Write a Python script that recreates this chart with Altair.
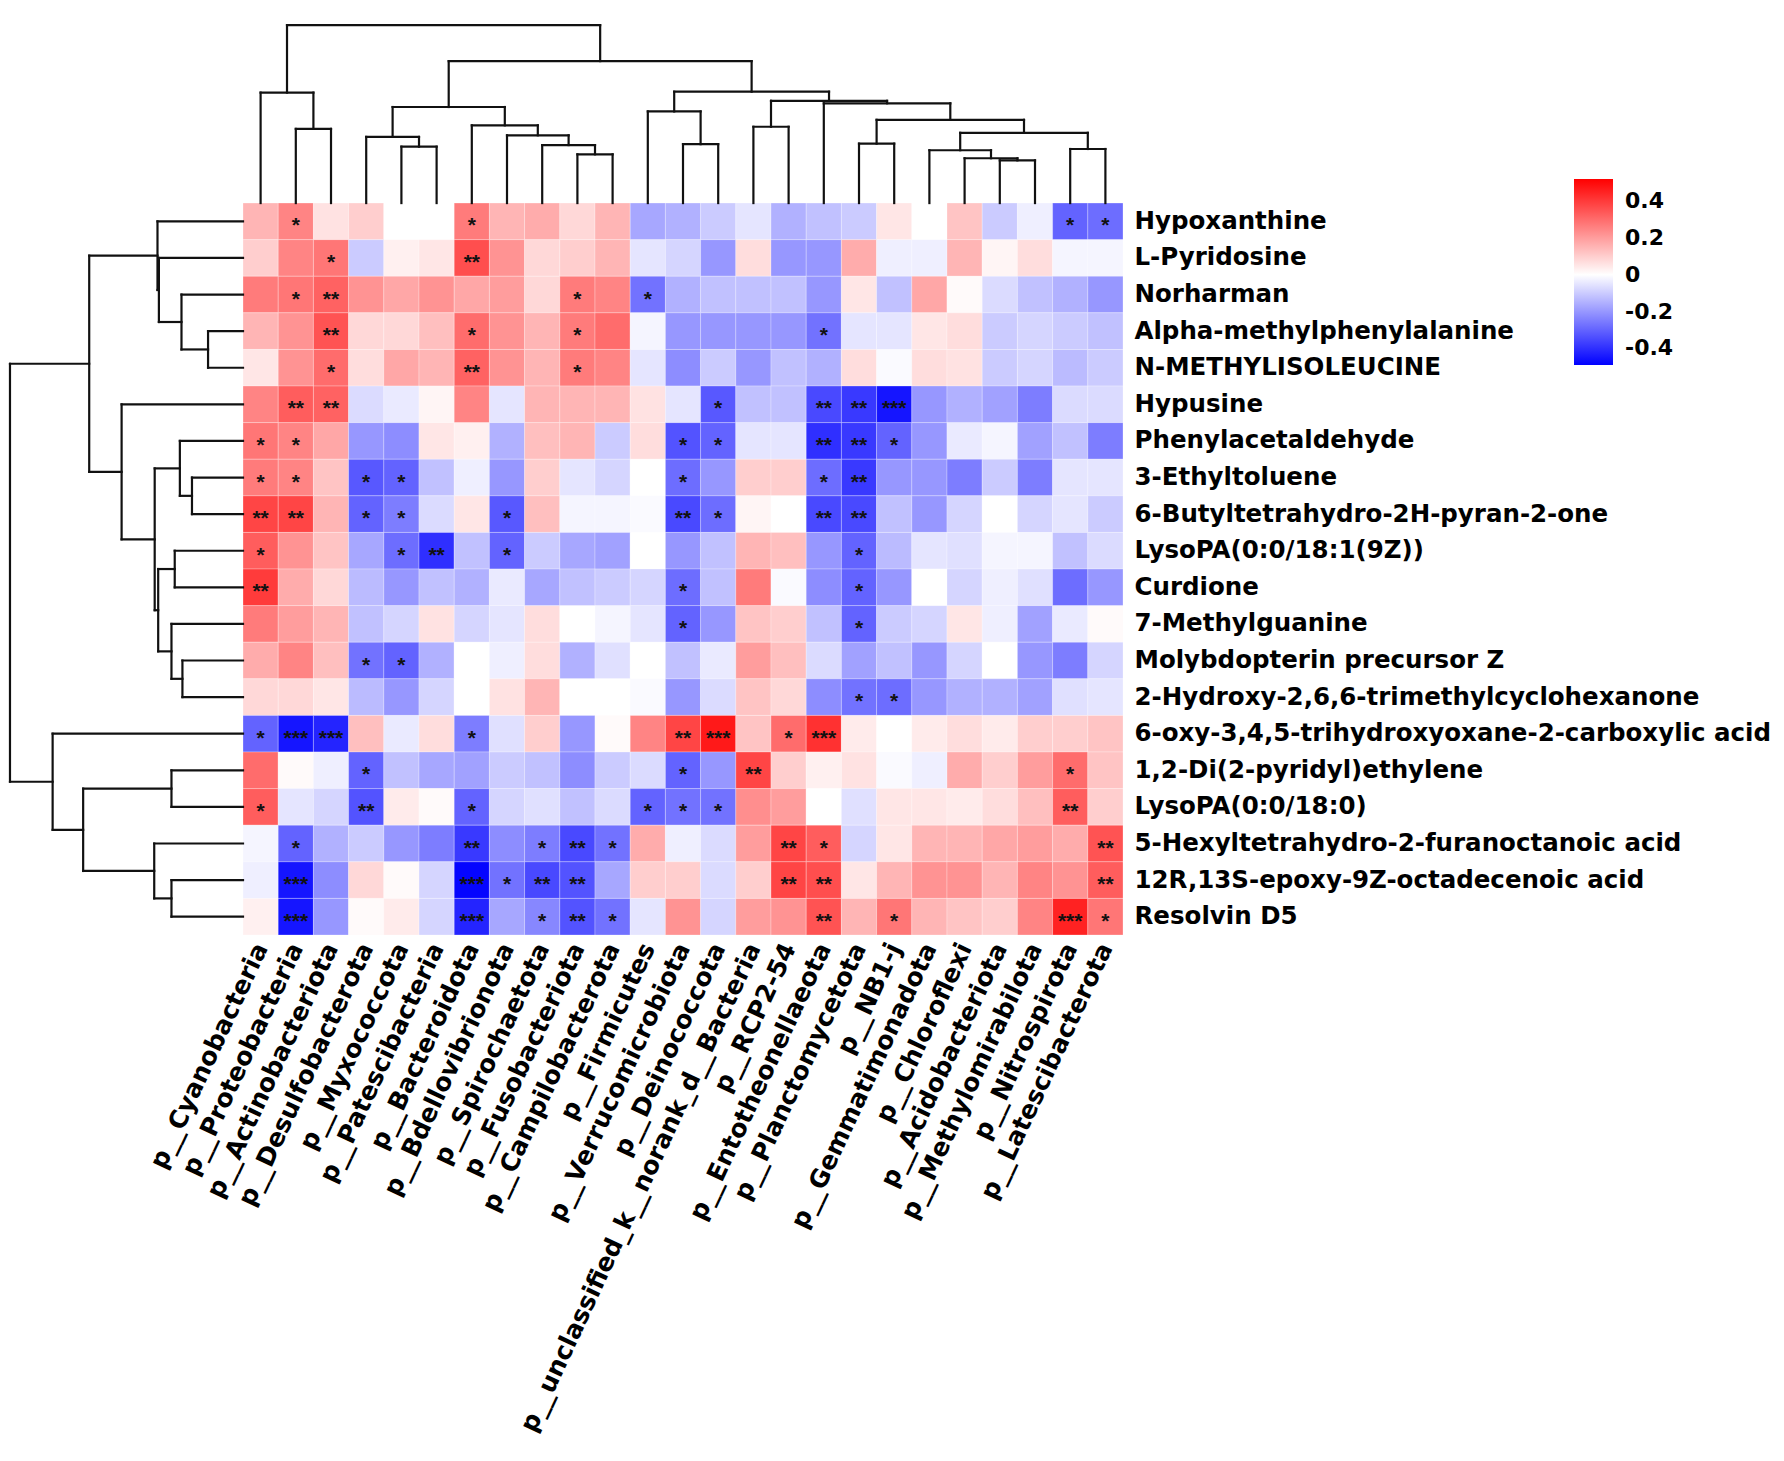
import json
import altair as alt
import pandas as pd

# ---------------- data ----------------
row_names = [
    "Hypoxanthine", "L-Pyridosine", "Norharman", "Alpha-methylphenylalanine",
    "N-METHYLISOLEUCINE", "Hypusine", "Phenylacetaldehyde", "3-Ethyltoluene",
    "6-Butyltetrahydro-2H-pyran-2-one", "LysoPA(0:0/18:1(9Z))", "Curdione",
    "7-Methylguanine", "Molybdopterin precursor Z",
    "2-Hydroxy-2,6,6-trimethylcyclohexanone",
    "6-oxy-3,4,5-trihydroxyoxane-2-carboxylic acid", "1,2-Di(2-pyridyl)ethylene",
    "LysoPA(0:0/18:0)", "5-Hexyltetrahydro-2-furanoctanoic acid",
    "12R,13S-epoxy-9Z-octadecenoic acid", "Resolvin D5",
]

col_names = [
    "p__Cyanobacteria", "p__Proteobacteria", "p__Actinobacteriota",
    "p__Desulfobacterota", "p__Myxococcota", "p__Patescibacteria",
    "p__Bacteroidota", "p__Bdellovibrionota", "p__Spirochaetota",
    "p__Fusobacteriota", "p__Campilobacterota", "p__Firmicutes",
    "p__Verrucomicrobiota", "p__Deinococcota",
    "p__unclassified_k__norank_d__Bacteria", "p__RCP2-54",
    "p__Entotheonellaeota", "p__Planctomycetota", "p__NB1-j",
    "p__Gemmatimonadota", "p__Chloroflexi", "p__Acidobacteriota",
    "p__Methylomirabilota", "p__Nitrospirota", "p__Latescibacterota",
]

values = [
    [0.15, 0.25, 0.06, 0.10, 0.00, 0.00, 0.27, 0.15, 0.17, 0.08, 0.15, -0.17, -0.15, -0.10, -0.05, -0.15, -0.12, -0.10, 0.05, 0.00, 0.12, -0.10, -0.03, -0.30, -0.28],
    [0.10, 0.25, 0.28, -0.10, 0.03, 0.05, 0.36, 0.22, 0.08, 0.10, 0.15, -0.05, -0.08, -0.20, 0.07, -0.20, -0.20, 0.17, -0.03, -0.03, 0.15, 0.02, 0.07, -0.02, -0.02],
    [0.27, 0.28, 0.32, 0.22, 0.18, 0.22, 0.18, 0.20, 0.08, 0.27, 0.25, -0.27, -0.15, -0.12, -0.12, -0.12, -0.20, 0.05, -0.12, 0.18, 0.01, -0.07, -0.12, -0.15, -0.20],
    [0.15, 0.22, 0.35, 0.08, 0.08, 0.13, 0.30, 0.22, 0.15, 0.27, 0.30, -0.02, -0.20, -0.20, -0.20, -0.20, -0.27, -0.05, -0.05, 0.05, 0.07, -0.10, -0.08, -0.10, -0.12],
    [0.05, 0.22, 0.30, 0.07, 0.18, 0.15, 0.32, 0.22, 0.15, 0.27, 0.25, -0.05, -0.22, -0.10, -0.20, -0.12, -0.15, 0.07, -0.01, 0.07, 0.06, -0.10, -0.08, -0.13, -0.10],
    [0.25, 0.33, 0.32, -0.07, -0.04, 0.02, 0.25, -0.05, 0.15, 0.15, 0.15, 0.06, -0.05, -0.32, -0.12, -0.12, -0.35, -0.38, -0.45, -0.20, -0.15, -0.18, -0.25, -0.07, -0.07],
    [0.28, 0.25, 0.18, -0.20, -0.22, 0.05, 0.03, -0.15, 0.13, 0.15, -0.10, 0.07, -0.33, -0.30, -0.05, -0.05, -0.40, -0.38, -0.30, -0.20, -0.04, -0.02, -0.18, -0.12, -0.25],
    [0.27, 0.25, 0.12, -0.32, -0.30, -0.12, -0.03, -0.20, 0.10, -0.05, -0.08, 0.00, -0.28, -0.20, 0.10, 0.10, -0.28, -0.38, -0.20, -0.20, -0.25, -0.10, -0.25, -0.05, -0.05],
    [0.38, 0.38, 0.15, -0.30, -0.25, -0.07, 0.05, -0.32, 0.13, -0.02, -0.02, -0.01, -0.35, -0.28, 0.02, 0.00, -0.35, -0.35, -0.12, -0.20, -0.08, 0.00, -0.08, -0.05, -0.10],
    [0.33, 0.22, 0.12, -0.17, -0.28, -0.40, -0.12, -0.30, -0.10, -0.17, -0.18, 0.00, -0.20, -0.12, 0.15, 0.13, -0.20, -0.30, -0.13, -0.05, -0.06, -0.02, -0.02, -0.12, -0.07],
    [0.40, 0.17, 0.08, -0.13, -0.20, -0.12, -0.15, -0.04, -0.17, -0.12, -0.10, -0.08, -0.28, -0.12, 0.27, -0.01, -0.22, -0.30, -0.20, 0.00, -0.08, -0.03, -0.06, -0.28, -0.20],
    [0.27, 0.20, 0.15, -0.12, -0.08, 0.06, -0.08, -0.05, 0.07, 0.00, -0.02, -0.05, -0.30, -0.20, 0.12, 0.10, -0.12, -0.30, -0.10, -0.08, 0.05, -0.03, -0.18, -0.04, 0.01],
    [0.17, 0.25, 0.13, -0.27, -0.30, -0.15, 0.00, -0.03, 0.07, -0.15, -0.06, 0.00, -0.12, -0.04, 0.20, 0.13, -0.07, -0.18, -0.12, -0.20, -0.08, 0.00, -0.20, -0.25, -0.08],
    [0.08, 0.08, 0.05, -0.13, -0.20, -0.08, 0.00, 0.06, 0.15, 0.00, 0.00, -0.01, -0.20, -0.07, 0.12, 0.08, -0.22, -0.27, -0.28, -0.20, -0.15, -0.15, -0.18, -0.06, -0.05],
    [-0.30, -0.45, -0.42, 0.13, -0.04, 0.07, -0.25, -0.06, 0.10, -0.20, 0.01, 0.25, 0.38, 0.47, 0.12, 0.30, 0.42, 0.04, 0.00, 0.04, 0.07, 0.04, 0.10, 0.10, 0.12],
    [0.30, 0.01, -0.03, -0.30, -0.12, -0.17, -0.18, -0.10, -0.12, -0.22, -0.10, -0.07, -0.30, -0.20, 0.38, 0.10, 0.03, 0.06, -0.01, -0.03, 0.17, 0.10, 0.20, 0.30, 0.12],
    [0.33, -0.05, -0.08, -0.33, 0.04, 0.01, -0.30, -0.08, -0.06, -0.12, -0.07, -0.30, -0.27, -0.27, 0.23, 0.20, 0.00, -0.06, 0.05, 0.05, 0.04, 0.07, 0.13, 0.33, 0.10],
    [-0.02, -0.30, -0.15, -0.10, -0.20, -0.25, -0.38, -0.22, -0.25, -0.35, -0.27, 0.17, -0.03, -0.07, 0.20, 0.38, 0.33, -0.08, 0.05, 0.15, 0.15, 0.18, 0.20, 0.17, 0.35],
    [-0.03, -0.45, -0.22, 0.08, 0.01, -0.08, -0.48, -0.27, -0.35, -0.33, -0.17, 0.10, 0.10, -0.07, 0.10, 0.38, 0.36, 0.05, 0.15, 0.22, 0.22, 0.15, 0.25, 0.22, 0.33],
    [0.03, -0.45, -0.20, 0.01, 0.04, -0.08, -0.42, -0.17, -0.23, -0.33, -0.27, -0.05, 0.22, -0.08, 0.20, 0.22, 0.35, 0.15, 0.28, 0.15, 0.12, 0.10, 0.25, 0.45, 0.28],
]

# number of significance stars per cell
signif = [
    [0,1,0,0,0,0,1,0,0,0,0,0,0,0,0,0,0,0,0,0,0,0,0,1,1],
    [0,0,1,0,0,0,2,0,0,0,0,0,0,0,0,0,0,0,0,0,0,0,0,0,0],
    [0,1,2,0,0,0,0,0,0,1,0,1,0,0,0,0,0,0,0,0,0,0,0,0,0],
    [0,0,2,0,0,0,1,0,0,1,0,0,0,0,0,0,1,0,0,0,0,0,0,0,0],
    [0,0,1,0,0,0,2,0,0,1,0,0,0,0,0,0,0,0,0,0,0,0,0,0,0],
    [0,2,2,0,0,0,0,0,0,0,0,0,0,1,0,0,2,2,3,0,0,0,0,0,0],
    [1,1,0,0,0,0,0,0,0,0,0,0,1,1,0,0,2,2,1,0,0,0,0,0,0],
    [1,1,0,1,1,0,0,0,0,0,0,0,1,0,0,0,1,2,0,0,0,0,0,0,0],
    [2,2,0,1,1,0,0,1,0,0,0,0,2,1,0,0,2,2,0,0,0,0,0,0,0],
    [1,0,0,0,1,2,0,1,0,0,0,0,0,0,0,0,0,1,0,0,0,0,0,0,0],
    [2,0,0,0,0,0,0,0,0,0,0,0,1,0,0,0,0,1,0,0,0,0,0,0,0],
    [0,0,0,0,0,0,0,0,0,0,0,0,1,0,0,0,0,1,0,0,0,0,0,0,0],
    [0,0,0,1,1,0,0,0,0,0,0,0,0,0,0,0,0,0,0,0,0,0,0,0,0],
    [0,0,0,0,0,0,0,0,0,0,0,0,0,0,0,0,0,1,1,0,0,0,0,0,0],
    [1,3,3,0,0,0,1,0,0,0,0,0,2,3,0,1,3,0,0,0,0,0,0,0,0],
    [0,0,0,1,0,0,0,0,0,0,0,0,1,0,2,0,0,0,0,0,0,0,0,1,0],
    [1,0,0,2,0,0,1,0,0,0,0,1,1,1,0,0,0,0,0,0,0,0,0,2,0],
    [0,1,0,0,0,0,2,0,1,2,1,0,0,0,0,2,1,0,0,0,0,0,0,0,2],
    [0,3,0,0,0,0,3,1,2,2,0,0,0,0,0,2,2,0,0,0,0,0,0,0,2],
    [0,3,0,0,0,0,3,0,1,2,1,0,0,0,0,0,2,0,1,0,0,0,0,3,1],
]

# column dendrogram merges: (node, left child, right child, relative height)
col_tree = [
    ("A", 1, 2, 0.417), ("B", 0, "A", 0.621),
    ("C", 4, 5, 0.317), ("D", 3, "C", 0.372),
    ("E", 9, 10, 0.274), ("F", 8, "E", 0.326), ("G", 7, "F", 0.381),
    ("H", 6, "G", 0.437), ("I", "D", "H", 0.540),
    ("J", 12, 13, 0.331), ("K", 11, "J", 0.515),
    ("L", 14, 15, 0.429), ("M", 17, 18, 0.334),
    ("N", 21, 22, 0.240), ("O", 20, "N", 0.252), ("P", 19, "O", 0.297),
    ("Q", 23, 24, 0.304), ("R", "P", "Q", 0.395), ("S", "M", "R", 0.468),
    ("T", 16, "S", 0.561), ("U", "L", "T", 0.575), ("V", "K", "U", 0.626),
    ("W", "I", "V", 0.798), ("X", "B", "W", 1.000),
]

# row dendrogram merges
row_tree = [
    ("a", 3, 4, 0.150), ("b", 2, "a", 0.264), ("c", 1, "b", 0.361),
    ("d", 0, "c", 0.367),
    ("e", 7, 8, 0.219), ("f", 6, "e", 0.271),
    ("g", 9, 10, 0.293), ("h", 12, 13, 0.260), ("i", 11, "h", 0.307),
    ("j", "g", "i", 0.364), ("k", "f", "j", 0.379), ("l", 5, "k", 0.521),
    ("m", "d", "l", 0.660),
    ("n", 15, 16, 0.307), ("o", 18, 19, 0.307), ("p", 17, "o", 0.381),
    ("q", "n", "p", 0.686), ("r", 14, "q", 0.817), ("s", "m", "r", 1.000),
]

legend_values = [-0.4, -0.2, 0, 0.2, 0.4]

# ---------------- layout constants ----------------
NC, NR = len(col_names), len(row_names)
X_LEFT = -6.648      # left end of x domain (column units)
Y_TOP = -5.33        # top end of y domain (row units)
LEFT_TREE = 6.62     # length of row dendrogram (column units)
TOP_TREE = 4.86      # height of column dendrogram (row units)
W, H = 1114, 927
FONT = "DejaVu Sans"

# ---------------- build tables ----------------
cells = []
for r in range(NR):
    for c in range(NC):
        cells.append(dict(
            row=row_names[r], col=col_names[c], value=values[r][c],
            c0=c, c1=c + 1, r0=r, r1=r + 1, cc=c + 0.5, rc=r + 0.5,
            stars="*" * signif[r][c],
        ))
cells = pd.DataFrame(cells)
stars_df = cells[cells["stars"] != ""]


def tree_segments(tree, n):
    pos = {i: i + 0.5 for i in range(n)}
    hgt = {i: 0.0 for i in range(n)}
    segs = []
    for name, a, b, h in tree:
        pa, pb = pos[a], pos[b]
        segs.append((pa, hgt[a], pa, h))
        segs.append((pb, hgt[b], pb, h))
        segs.append((pa, h, pb, h))
        pos[name] = (pa + pb) / 2
        hgt[name] = h
    return segs


top_df = pd.DataFrame(
    [dict(x=p1, y=-h1 * TOP_TREE, x2=p2, y2=-h2 * TOP_TREE)
     for p1, h1, p2, h2 in tree_segments(col_tree, NC)])
left_df = pd.DataFrame(
    [dict(x=-h1 * LEFT_TREE, y=p1, x2=-h2 * LEFT_TREE, y2=p2)
     for p1, h1, p2, h2 in tree_segments(row_tree, NR)])

xscale = alt.Scale(domain=[X_LEFT, NC], nice=False, zero=False)
yscale = alt.Scale(domain=[Y_TOP, NR], nice=False, zero=False, reverse=True)

col_expr = json.dumps(col_names) + "[floor(datum.value)]"
row_expr = json.dumps(row_names) + "[floor(datum.value)]"

x_axis = alt.Axis(
    orient="bottom", values=[c + 0.5 for c in range(NC)], labelExpr=col_expr,
    labelAngle=-65, labelAlign="right", labelBaseline="middle",
    labelFont=FONT, labelFontSize=25, labelFontWeight="bold", labelColor="black",
    labelPadding=9, labelLimit=2000, labelOverlap=False, labelFlush=False,
    ticks=False, domain=False, grid=False, title="",
)
y_axis = alt.Axis(
    orient="right", values=[r + 0.5 for r in range(NR)], labelExpr=row_expr,
    labelAlign="left", labelBaseline="middle",
    labelFont=FONT, labelFontSize=24.5, labelFontWeight="bold", labelColor="black",
    labelPadding=11, labelLimit=2000, labelOverlap=False, labelFlush=False,
    ticks=False, domain=False, grid=False, title="",
)

color = alt.Color(
    "value:Q",
    scale=alt.Scale(domain=[-0.49, 0, 0.52], range=["#0000ff", "#ffffff", "#ff0000"],
                    interpolate="rgb"),
    legend=alt.Legend(
        orient="none", legendX=1565, legendY=171, direction="vertical",
        gradientLength=186, gradientThickness=39, gradientStrokeWidth=0,
        values=legend_values,
        labelExpr="datum.value == 0 ? '0' : (datum.value < 0 ? '-' : '') + format(abs(datum.value), '.1f')",
        labelFont=FONT, labelFontSize=22, labelFontWeight="bold", labelColor="black",
        labelOffset=12, labelOverlap=False, title=None,
    ),
)


def xch(field):
    return alt.X(field, type="quantitative", scale=xscale, axis=x_axis)


def ych(field):
    return alt.Y(field, type="quantitative", scale=yscale, axis=y_axis)


heat = alt.Chart(cells).mark_rect(stroke="#ffffff", strokeWidth=0.6, strokeOpacity=0.45).encode(
    x=xch("c0"), x2="c1:Q", y=ych("r0"), y2="r1:Q", color=color,
)

stars = alt.Chart(stars_df).mark_text(
    font="Liberation Sans", fontSize=21, fontWeight="bold", color="#111111",
    baseline="middle", align="center", dy=5,
).encode(x=xch("cc"), y=ych("rc"), text="stars:N")

top_tree = alt.Chart(top_df).mark_rule(color="#111111", strokeWidth=2.2, strokeCap="square").encode(
    x=xch("x"), x2="x2:Q", y=ych("y"), y2="y2:Q",
)

left_tree = alt.Chart(left_df).mark_rule(color="#111111", strokeWidth=2.2, strokeCap="square").encode(
    x=xch("x"), x2="x2:Q", y=ych("y"), y2="y2:Q",
)

chart = alt.layer(heat, stars, top_tree, left_tree).properties(
    width=W, height=H, padding=0, background="white",
).configure_view(strokeWidth=0)

chart.save("out.html", embed_options={"renderer": "svg", "actions": False})
